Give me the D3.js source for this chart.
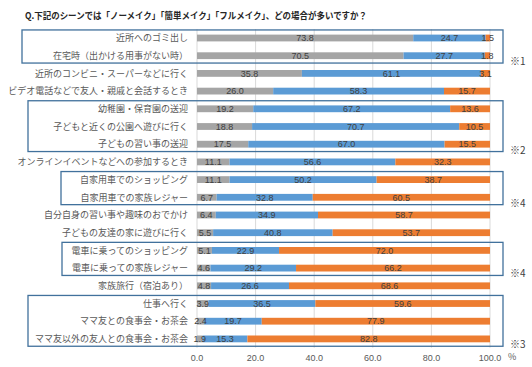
<!DOCTYPE html>
<html><head><meta charset="utf-8">
<script src="https://cdn.jsdelivr.net/npm/d3@7"></script>
<style>
body{margin:0;background:#fff;}
svg{display:block;font-family:"Noto Sans CJK JP","Noto Sans",sans-serif;}
</style></head>
<body><svg id="c" width="532" height="367"></svg>
<script>
const title = "Q.下記のシーンでは「ノーメイク」「簡単メイク」「フルメイク」、どの場合が多いですか？";
const categories = [
  "近所へのゴミ出し",
  "在宅時（出かける用事がない時）",
  "近所のコンビニ・スーパーなどに行く",
  "ビデオ電話などで友人・親戚と会話するとき",
  "幼稚園・保育園の送迎",
  "子どもと近くの公園へ遊びに行く",
  "子どもの習い事の送迎",
  "オンラインイベントなどへの参加するとき",
  "自家用車でのショッピング",
  "自家用車での家族レジャー",
  "自分自身の習い事や趣味のおでかけ",
  "子どもの友達の家に遊びに行く",
  "電車に乗ってのショッピング",
  "電車に乗っての家族レジャー",
  "家族旅行（宿泊あり）",
  "仕事へ行く",
  "ママ友との食事会・お茶会",
  "ママ友以外の友人との食事会・お茶会"
];
const seriesNames = ["ノーメイク","簡単メイク","フルメイク"];
const noMake   = [73.8,70.5,35.8,26.0,19.2,18.8,17.5,11.1,11.1,6.7,6.4,5.5,5.1,4.6,4.8,3.9,2.4,1.9];
const easyMake = [24.7,27.7,61.1,58.3,67.2,70.7,67.0,56.6,50.2,32.8,34.9,40.8,22.9,29.2,26.6,36.5,19.7,15.3];
const fullMake = [1.5,1.8,3.1,15.7,13.6,10.5,15.5,32.3,38.7,60.5,58.7,53.7,72.0,66.2,68.6,59.6,77.9,82.8];
const ticks = [0,20,40,60,80,100];
const colors = ["#a5a5a5","#5b9bd5","#ed7d31"];
// annotation groups: first row, last row, note
const groups = [
  {from:0, to:1, note:"※1", left:22},
  {from:4, to:6, note:"※2", left:28},
  {from:8, to:9, note:"※4", left:61},
  {from:12, to:13, note:"※4", left:62},
  {from:15, to:17, note:"※3", left:28}
];

const svg = d3.select("#c");
const x = d3.scaleLinear().domain([0,100]).range([197,490]);
const y = d3.scaleBand().domain(categories).range([29.15,347.75]).padding(0);
const barH = 6.8;

svg.append("text").attr("x",25).attr("y",18.5)
  .attr("font-size",9.2).attr("font-weight","bold").attr("fill","#262626")
  .attr("textLength",342).attr("lengthAdjust","spacingAndGlyphs")
  .text(title);

// gridlines
svg.append("g").selectAll("line").data(ticks).join("line")
  .attr("x1",d=>x(d)).attr("x2",d=>x(d))
  .attr("y1",y.range()[0]).attr("y2",y.range()[1])
  .attr("stroke","#d9d9d9").attr("stroke-width",1);

// stacked bars
const rows = categories.map((c,i)=>({cat:c, vals:[noMake[i],easyMake[i],fullMake[i]]}));
const stack = d3.stack().keys([0,1,2]).value((d,k)=>d.vals[k]);
const stacked = stack(rows);
const gBars = svg.append("g");
stacked.forEach((layer,k)=>{
  gBars.append("g").selectAll("rect").data(layer).join("rect")
    .attr("x",d=>x(d[0])).attr("width",d=>x(d[1])-x(d[0]))
    .attr("y",d=>y(d.data.cat)+y.bandwidth()/2-barH/2).attr("height",barH)
    .attr("fill",colors[k]);
});
stacked.forEach((layer,k)=>{
  gBars.append("g").selectAll("text").data(layer).join("text")
    .attr("x",d=>(x(d[0])+x(d[1]))/2)
    .attr("y",d=>y(d.data.cat)+y.bandwidth()/2+3.2)
    .attr("text-anchor","middle").attr("font-size",9).attr("fill","#404040")
    .attr("font-family","Liberation Sans, Arial, sans-serif")
    .text(d=>d.data.vals[k].toFixed(1));
});

// category labels
svg.append("g").selectAll("text").data(categories).join("text")
  .attr("x",188).attr("y",d=>y(d)+y.bandwidth()/2+3.2)
  .attr("text-anchor","end").attr("font-size",9).attr("fill","#595959")
  .text(d=>d);

// x axis tick labels
svg.append("g").selectAll("text").data(ticks).join("text")
  .attr("x",d=>x(d)).attr("y",361)
  .attr("text-anchor","middle").attr("font-size",9).attr("fill","#595959")
  .attr("font-family","Liberation Sans, Arial, sans-serif")
  .text(d=>d.toFixed(1));
svg.append("text").attr("x",508).attr("y",360).attr("font-size",9).attr("fill","#595959").text("%");

// annotation boxes
const gBox = svg.append("g");
groups.forEach(g=>{
  const top = y(categories[g.from])+0.8;
  const bot = y(categories[g.to])+y.bandwidth()-1.5;
  gBox.append("rect").attr("x",g.left).attr("y",top).attr("width",503-g.left).attr("height",bot-top)
    .attr("fill","none").attr("stroke","#41719c").attr("stroke-width",1.3);
  gBox.append("text").attr("x",510).attr("y",bot+2).attr("font-size",10).attr("fill","#404040").text(g.note);
});
</script></body></html>
